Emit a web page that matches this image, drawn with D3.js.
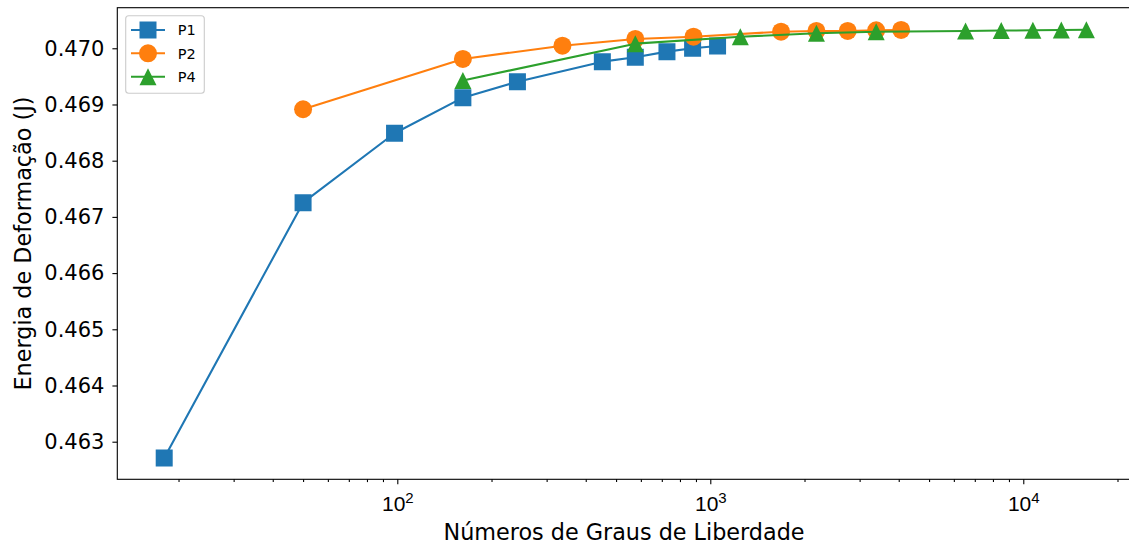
<!DOCTYPE html>
<html>
<head>
<meta charset="utf-8">
<script src="https://cdn.jsdelivr.net/npm/d3@7"></script>
<style>
  html, body { margin: 0; padding: 0; background: #fff; }
  svg { display: block; font-family: "DejaVu Sans", sans-serif; }
</style>
</head>
<body>
<svg id="chart" width="1129" height="544"></svg>
<script>
// Degrees of freedom and strain energy for each discretisation
const seriesNames = ["P1", "P2", "P4"];
const P1_dof = [18, 50, 98, 162, 242, 452, 576, 727, 878, 1055];
const P1_energy = [0.46271, 0.467253, 0.468488, 0.469121, 0.469406, 0.469762, 0.46984, 0.46994, 0.470000, 0.470041];
const P2_dof = [50, 162, 337, 576, 884, 1683, 2183, 2748, 3388, 4072];
const P2_energy = [0.468915, 0.46981, 0.470046, 0.470166, 0.470206, 0.470295, 0.470308, 0.470308, 0.47032, 0.470326];
const P4_dof = [162, 576, 1247, 2183, 3388, 6540, 8505, 10733, 13230, 15905];
const P4_energy = [0.469427, 0.470082, 0.470206, 0.470267, 0.470295, 0.470308, 0.470315, 0.47032, 0.470325, 0.47033];
const yTicks = [0.463, 0.464, 0.465, 0.466, 0.467, 0.468, 0.469, 0.470];
const xMajorExp = [2, 3, 4];
const xLabel = "Números de Graus de Liberdade";
const yLabel = "Energia de Deformação (J)";

const colors = ["#1f77b4", "#ff7f0e", "#2ca02c"];

// triangle as wide as it is tall, centred on its bounding box
const triangleUp = {
  draw(ctx, size) {
    const h = Math.sqrt(size) / 2;
    ctx.moveTo(0, -h);
    ctx.lineTo(h, h);
    ctx.lineTo(-h, h);
    ctx.closePath();
  }
};
const symbols = [d3.symbolSquare, d3.symbolCircle, triangleUp];
const symbolSizes = [17 * 17, Math.PI * 9 * 9, 17 * 17];

const series = [
  { name: seriesNames[0], x: P1_dof, y: P1_energy },
  { name: seriesNames[1], x: P2_dof, y: P2_energy },
  { name: seriesNames[2], x: P4_dof, y: P4_energy }
];

const plot = { left: 117.3, right: 1131.7, top: 7.7, bottom: 479.3 };
const svg = d3.select("#chart");

const x = d3.scaleLog()
  .domain([Math.pow(10, 1.1054), Math.pow(10, 4.3464)])
  .range([plot.left, plot.right]);
const y = d3.scaleLinear()
  .domain([0.462331, 0.470722])
  .range([plot.bottom, plot.top]);

svg.append("rect").attr("width", 1129).attr("height", 544).attr("fill", "#fff");

// clip for the data marks
svg.append("clipPath").attr("id", "plotclip")
  .append("rect")
  .attr("x", plot.left).attr("y", plot.top)
  .attr("width", plot.right - plot.left).attr("height", plot.bottom - plot.top);

// ---- x axis (log, minor ticks) ----
const xMinor = [];
for (let e = 1; e <= 4; e++) {
  for (let m = 2; m <= 9; m++) {
    const v = m * Math.pow(10, e);
    if (v >= x.domain()[0] && v <= x.domain()[1]) xMinor.push(v);
  }
}
const xAxisMinor = d3.axisBottom(x).tickValues(xMinor).tickSize(2.8).tickFormat("");
const gxm = svg.append("g").attr("transform", `translate(0,${plot.bottom})`).call(xAxisMinor);
gxm.select(".domain").remove();
gxm.selectAll(".tick line").attr("stroke", "#000").attr("stroke-width", 1.1);

const xAxisMajor = d3.axisBottom(x)
  .tickValues(xMajorExp.map(e => Math.pow(10, e)))
  .tickSize(4.9).tickPadding(6).tickFormat("");
const gx = svg.append("g").attr("transform", `translate(0,${plot.bottom})`).call(xAxisMajor);
gx.select(".domain").remove();
gx.selectAll(".tick line").attr("stroke", "#000").attr("stroke-width", 1.1);
gx.selectAll(".tick").each(function (d) {
  const t = d3.select(this).append("text")
    .attr("y", 31.4).attr("fill", "#000")
    .attr("text-anchor", "middle")
    .style("font-size", "21px");
  t.append("tspan").text("10");
  t.append("tspan").attr("dy", -8).style("font-size", "15px")
    .text(String(Math.round(Math.log10(d))));
});

// ---- y axis ----
const yAxis = d3.axisLeft(y).tickValues(yTicks).tickSize(4.9).tickPadding(8)
  .tickFormat(d3.format(".3f"));
const gy = svg.append("g").attr("transform", `translate(${plot.left},0)`).call(yAxis);
gy.select(".domain").remove();
gy.selectAll(".tick line").attr("stroke", "#000").attr("stroke-width", 1.1);
gy.selectAll(".tick text").attr("fill", "#000")
  .style("font-size", "21px").style("font-family", "DejaVu Sans");

// ---- data ----
const line = d3.line().x(d => x(d[0])).y(d => y(d[1]));
const dataLayer = svg.append("g").attr("clip-path", "url(#plotclip)");
series.forEach((s, i) => {
  const pts = s.x.map((v, j) => [v, s.y[j]]);
  const g = dataLayer.append("g");
  g.append("path").datum(pts)
    .attr("d", line).attr("fill", "none")
    .attr("stroke", colors[i]).attr("stroke-width", 2.1)
    .attr("stroke-linejoin", "round");
  const sym = d3.symbol().type(symbols[i]).size(symbolSizes[i]);
  g.selectAll("path.m").data(pts).join("path")
    .attr("class", "m")
    .attr("d", sym)
    .attr("transform", d => `translate(${x(d[0])},${y(d[1])})`)
    .attr("fill", colors[i]);
});

// ---- frame ----
svg.append("rect")
  .attr("x", plot.left).attr("y", plot.top)
  .attr("width", plot.right - plot.left).attr("height", plot.bottom - plot.top)
  .attr("fill", "none").attr("stroke", "#000").attr("stroke-width", 1.1);

// ---- axis labels ----
svg.append("text")
  .attr("x", 624).attr("y", 540)
  .attr("text-anchor", "middle").attr("fill", "#000")
  .style("font-size", "22.3px").text(xLabel);

svg.append("text")
  .attr("transform", `translate(31,${(plot.top + plot.bottom) / 2}) rotate(-90)`)
  .attr("text-anchor", "middle").attr("fill", "#000")
  .style("font-size", "22.3px").text(yLabel);

// ---- legend ----
const lg = svg.append("g");
lg.append("rect")
  .attr("x", 125.7).attr("y", 15.7).attr("width", 78.6).attr("height", 77.6)
  .attr("rx", 3).attr("ry", 3)
  .attr("fill", "#fff").attr("fill-opacity", 0.8)
  .attr("stroke", "#cccccc").attr("stroke-width", 1.1);
const legendY = [30, 53.3, 76.7];
series.forEach((s, i) => {
  const gy0 = legendY[i];
  lg.append("line")
    .attr("x1", 131).attr("x2", 165).attr("y1", gy0).attr("y2", gy0)
    .attr("stroke", colors[i]).attr("stroke-width", 2.1);
  const sym = d3.symbol().type(symbols[i]).size(symbolSizes[i]);
  lg.append("path").attr("d", sym)
    .attr("transform", `translate(148,${gy0})`)
    .attr("fill", colors[i]);
  lg.append("text")
    .attr("x", 177.7).attr("y", gy0 + 5.3)
    .attr("fill", "#000").style("font-size", "14.5px")
    .text(s.name);
});
</script>
</body>
</html>
